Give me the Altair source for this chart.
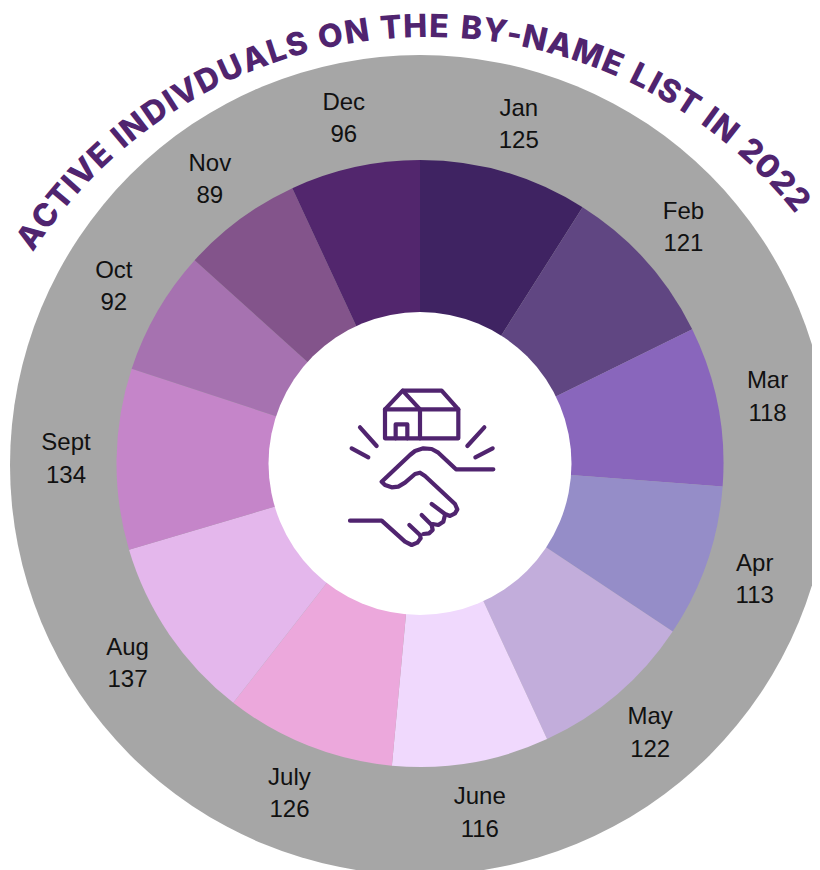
import math
import altair as alt
import pandas as pd

months = ["Jan","Feb","Mar","Apr","May","June","July","Aug","Sept","Oct","Nov","Dec"]
values = [125,121,118,113,122,116,126,137,134,92,89,96]
colors = ["#3F2362","#604682","#8966BC","#958DC8","#C2ADDB","#F0D9FD","#ECA8DC","#E4B7EC","#C585C9","#A672B0","#83548B","#52266D"]

title_text = "ACTIVE INDIVDUALS ON THE BY-NAME LIST IN 2022"
char_w = {"A":.72,"C":.70,"T":.62,"I":.30,"V":.70,"E":.60," ":.28,"N":.74,"D":.72,"U":.72,"L":.58,"S":.62,
          "O":.76,"H":.74,"B":.66,"Y":.68,"-":.42,"M":.90,"2":.62,"0":.64}
title_start, title_end = -55.7, 50.2
title_cx, title_cy, title_r = 428, 507, 480

icon_strokes = {
 "body": [(165,118),(385,118),(385,205),(165,205),(165,118)],
 "roof": [(165,118),(218,62),(335,62),(385,118)],
 "gable": [(218,62),(270,118),(270,205)],
 "door": [(197,205),(197,163),(232,163),(232,205)],
 "r1": [(90,172),(140,228)],
 "r2": [(65,235),(115,262)],
 "r3": [(463,172),(412,228)],
 "r4": [(488,235),(436,262)],
 "upper": [(490,298),(378,298),(325,248),(305,237),(280,235),(255,243),(240,255),(155,335),(165,345),(185,352),(205,350),(225,338),(255,312),(270,308),(285,318),(375,402),(382,418),(375,430),(360,438),(345,432),(305,402)],
 "lower": [(60,452),(155,452),(225,515),(245,525),(262,518),(272,505),(270,495),(238,465)],
 "f2": [(275,435),(305,465),(308,480),(297,490),(280,492)],
 "f3": [(345,435),(340,455),(325,465),(308,462)],
}

df = pd.DataFrame({"m":months,"v":values,"i":range(12)})
df["label"] = [f"{m}\n{v}" for m,v in zip(months,values)]

widths = [char_w[c] for c in title_text]
cum = []
s = 0
for k,w in enumerate(widths):
    cum.append(s + w/2)
    s += w
span0, span1 = cum[0], cum[-1]
rows = []
for k,c in enumerate(title_text):
    a = title_start + (cum[k]-span0)/(span1-span0)*(title_end-title_start)
    r = math.radians(a)
    rows.append({"c":c,"k":k,"x":title_cx+title_r*math.sin(r),"y":title_cy-title_r*math.cos(r),"rot":a%360})
tdf = pd.DataFrame(rows)
tdf = tdf[tdf.c!=" "]

irows = []
for name,pts in icon_strokes.items():
    for j,(x,y) in enumerate(pts):
        irows.append({"s":name,"j":j,"x":330+x/3,"y":370+y/3})
idf = pd.DataFrame(irows)

W, H = 804, 862
X = alt.X("x:Q",scale=alt.Scale(domain=[8,8+W],nice=False,zero=False),axis=None)
Y = alt.Y("y:Q",scale=alt.Scale(domain=[8+H,8],nice=False,zero=False),axis=None)
one = alt.Data(values=[{"a":1}])
cx, cy = alt.value(412), alt.value(455.5)

gray = alt.Chart(one).mark_arc(radius=410,color="#A6A6A6").encode(
    x=alt.value(412),y=alt.value(457),theta=alt.value(0),theta2=alt.value(6.2832))
arcs = alt.Chart(df).mark_arc(radius=303.5,innerRadius=0).encode(
    x=cx,y=cy,
    theta=alt.Theta("v:Q",stack=True),
    order=alt.Order("i:Q"),
    color=alt.Color("m:N",scale=alt.Scale(domain=months,range=colors),legend=None))
hole = alt.Chart(one).mark_arc(radius=151.5,color="white").encode(
    x=cx,y=cy,theta=alt.value(0),theta2=alt.value(6.2832))
labels = alt.Chart(df).mark_text(radius=354,font="Liberation Sans",fontSize=24,color="#111111",lineBreak="\n",lineHeight=32.5,baseline="middle",dy=-15).encode(
    x=cx,y=cy,
    theta=alt.Theta("v:Q",stack=True),
    order=alt.Order("i:Q"),
    text="label:N")
title = alt.Chart(tdf).mark_text(font="Inter",fontWeight=800,fontSize=32,color="#50246F",baseline="middle",align="center").encode(
    x=X,y=Y,text="c:N",angle=alt.Angle("rot:Q",scale=None))
icon = alt.Chart(idf).mark_line(color="#50246F",strokeWidth=4.2,strokeCap="round",strokeJoin="round").encode(
    x=X,y=Y,detail="s:N",order=alt.Order("j:Q"))

chart = alt.layer(gray,arcs,hole,icon,title,labels).properties(
    width=W,height=H,padding=0,autosize=alt.AutoSizeParams(type="none"),background="white"
).configure_view(stroke=None)
chart.save("out.html", embed_options={"renderer":"svg","actions":False})
